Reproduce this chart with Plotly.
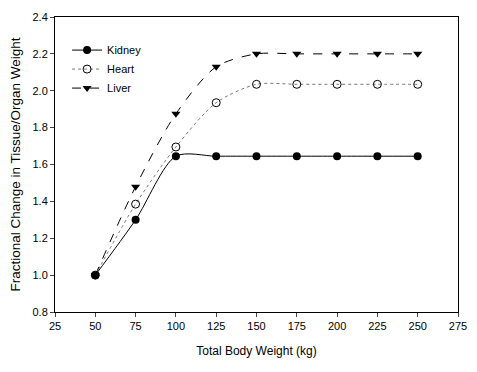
import plotly.graph_objects as go

weight = [50, 75, 100, 125, 150, 175, 200, 225, 250]
kidney = [1.0, 1.30, 1.645, 1.645, 1.645, 1.645, 1.645, 1.645, 1.645]
heart = [1.0, 1.385, 1.695, 1.935, 2.035, 2.035, 2.035, 2.035, 2.035]
liver = [1.0, 1.48, 1.875, 2.13, 2.20, 2.20, 2.20, 2.20, 2.20]

x_ticks = [25, 50, 75, 100, 125, 150, 175, 200, 225, 250, 275]
y_ticks = [0.8, 1.0, 1.2, 1.4, 1.6, 1.8, 2.0, 2.2, 2.4]

fig = go.Figure()
fig.add_trace(go.Scatter(x=weight, y=kidney, name="Kidney", mode="lines+markers",
    line=dict(color="black", width=1, shape="spline", smoothing=0.8),
    marker=dict(symbol="circle", size=8, color="black")))
fig.add_trace(go.Scatter(x=weight, y=heart, name="Heart", mode="lines+markers",
    line=dict(color="#777", width=1, dash="dot", shape="spline", smoothing=0.8),
    marker=dict(symbol="circle-open", size=8, color="black", line=dict(width=1))))
fig.add_trace(go.Scatter(x=weight, y=liver, name="Liver", mode="lines+markers",
    line=dict(color="black", width=1, dash="dash", shape="spline", smoothing=0.8),
    marker=dict(symbol="triangle-down", size=8, color="black")))

fig.update_layout(
    width=469, height=364,
    margin=dict(l=47, r=19, t=9, b=60, autoexpand=False),
    paper_bgcolor="white", plot_bgcolor="white",
    font=dict(family="Liberation Sans, Arial", color="black", size=11),
    legend=dict(x=0.03, y=0.937, xanchor="left", yanchor="top", bgcolor="rgba(0,0,0,0)",
                font=dict(size=11), tracegroupgap=0, itemwidth=30),
    showlegend=True,
)
fig.update_xaxes(range=[25, 275], tickvals=x_ticks, ticks="outside", ticklen=4,
                 showline=True, linecolor="black", linewidth=1, mirror=True,
                 showgrid=False, zeroline=False, automargin=False,
                 title=dict(text="Total Body Weight (kg)", font=dict(size=12), standoff=15))
fig.update_yaxes(range=[0.8, 2.4], tickvals=y_ticks, tickformat=".1f", ticks="outside", ticklen=4,
                 showline=True, linecolor="black", linewidth=1, mirror=True,
                 showgrid=False, zeroline=False, automargin=False,
                 title=dict(text="Fractional Change in Tissue/Organ Weight", font=dict(size=13.5), standoff=10))

fig.write_html("out.html")
